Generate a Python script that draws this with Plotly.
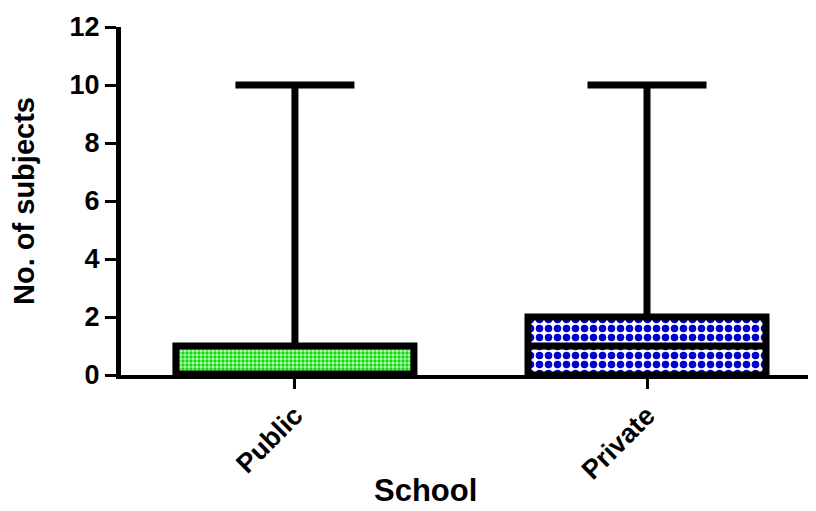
import plotly.graph_objects as go

categories = ["Public", "Private"]
q1 = [0, 0]
median = [0, 1]
q3 = [1, 2]
lower = [0, 0]
upper = [10, 10]
fg_colors = ["#18d818", "#0000cc"]
bg_colors = ["#b0ffb0", "#ffffff"]
pat_sizes = [4, 9]

FONT = "Liberation Sans, Arial, sans-serif"
BOXW = 0.676
W, H = 808, 503
ML, MR, MT, MB = 113, 0, 19, 136

fig = go.Figure()
for i, c in enumerate(categories):
    fig.add_trace(go.Bar(
        x=[c], y=[q3[i] - q1[i]], base=[q1[i]], width=BOXW,
        marker=dict(color=bg_colors[i], line=dict(width=0),
                    pattern=dict(shape=".", fgcolor=fg_colors[i], bgcolor=bg_colors[i],
                                 size=pat_sizes[i], solidity=0.55, fillmode="replace")),
        showlegend=False, hoverinfo="skip"))

fig.add_trace(go.Box(
    x=categories, q1=q1, median=median, q3=q3, lowerfence=lower, upperfence=upper,
    fillcolor="rgba(0,0,0,0)", line=dict(color="black", width=7),
    width=BOXW, whiskerwidth=0.5, boxpoints=False, showlegend=False))

pw = W - ML - MR
ph = H - MT - MB
fig.update_layout(
    width=W, height=H,
    margin=dict(l=ML, r=MR, t=MT, b=MB),
    plot_bgcolor="white", paper_bgcolor="white",
    barmode="overlay",
    font=dict(family=FONT, color="black"),
    xaxis=dict(type="category", range=[-0.494, 1.48], showline=True, linecolor="black",
               linewidth=4, ticks="outside", ticklen=10, tickwidth=3, tickcolor="black",
               tickangle=-45, tickfont=dict(size=27, family=FONT, weight="bold"),
               showgrid=False, zeroline=False),
    yaxis=dict(range=[0, 12], tickvals=[0, 2, 4, 6, 8, 10, 12], showline=True,
               linecolor="black", linewidth=5, ticks="outside", ticklen=11, tickwidth=3,
               tickcolor="black", tickfont=dict(size=27, family=FONT, weight="bold"),
               showgrid=False, zeroline=False,
               title=dict(text="No. of subjects", font=dict(size=29, family=FONT, weight="bold"),
                          standoff=28)),
    annotations=[dict(text="School", x=(417 - ML) / pw, y=(MT + ph - 482) / ph,
                      xref="paper", yref="paper", xanchor="center", yanchor="middle",
                      showarrow=False, font=dict(size=31, family=FONT, weight="bold"))],
)

fig.write_html("out.html")
